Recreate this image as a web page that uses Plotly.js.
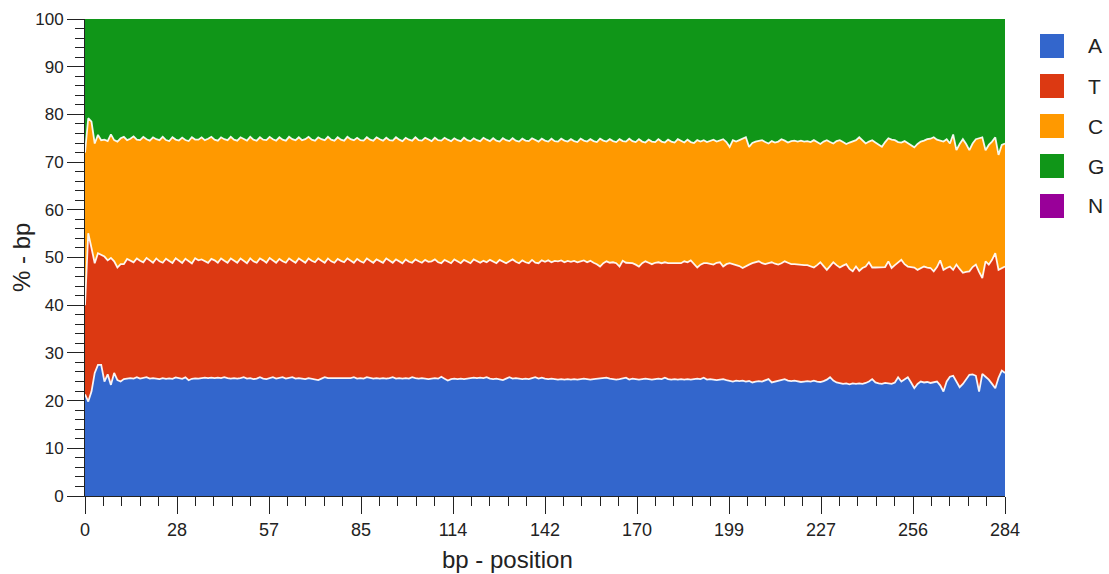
<!DOCTYPE html>
<html>
<head>
<meta charset="utf-8">
<script src="https://cdn.plot.ly/plotly-3.0.1.min.js"></script>
<style>html,body{margin:0;padding:0;background:#fff;}#chart{width:1109px;height:574px;}</style>
</head>
<body>
<div id="chart"></div>
<script>
// ---- data (per-base composition, % of reads at each position) ----
const seriesNames = ['A', 'T', 'C', 'G', 'N'];
const seriesColors = ['#3366CC', '#DC3912', '#FF9900', '#109618', '#990099'];
const xTickValues = [0, 28.4, 56.8, 85.2, 113.6, 142, 170.4, 198.8, 227.2, 255.6, 284];
const xTickLabels = ['0', '28', '57', '85', '114', '142', '170', '199', '227', '256', '284'];

const pctA = [
21.3,19.8,21.9,25.8,27.5,27.5,24.0,25.5,23.3,25.8,
24.3,24.0,24.5,24.6,24.7,24.6,24.9,24.6,24.7,24.9,
24.6,24.7,24.6,24.5,24.7,24.6,24.7,24.6,24.9,24.7,
24.6,24.9,24.3,24.6,24.7,24.6,24.7,24.8,24.7,24.8,
24.7,24.8,24.7,24.9,24.7,24.6,24.7,24.6,24.7,24.9,
24.6,24.7,24.5,24.6,24.9,24.6,24.5,24.7,24.9,24.6,
24.7,24.9,24.6,24.7,24.9,24.6,24.7,24.6,24.5,24.7,
24.6,24.5,24.3,24.6,24.9,24.7,24.7,24.6,24.7,24.6,
24.7,24.6,24.7,24.9,24.6,24.7,24.6,24.9,24.7,24.6,
24.7,24.6,24.7,24.6,24.7,24.9,24.6,24.7,24.6,24.7,
24.6,24.9,24.7,24.6,24.7,24.6,24.5,24.6,24.7,24.6,
25.0,24.6,24.2,24.5,24.6,24.5,24.6,24.5,24.6,24.7,
24.8,24.7,24.8,24.7,24.9,24.6,24.5,24.6,24.5,24.3,
24.6,24.9,24.6,24.7,24.6,24.5,24.6,24.5,24.7,24.9,
24.6,24.8,24.6,24.5,24.6,24.5,24.4,24.5,24.4,24.5,
24.4,24.5,24.4,24.5,24.6,24.5,24.4,24.5,24.6,24.7,
24.8,24.8,24.6,24.5,24.4,24.5,24.6,24.8,24.4,24.6,
24.5,24.4,24.5,24.6,24.5,24.4,24.5,24.6,24.5,24.8,
24.5,24.4,24.5,24.4,24.5,24.4,24.5,24.4,24.5,24.6,
24.5,24.8,24.4,24.5,24.4,24.3,24.4,24.5,24.3,24.2,
24.0,24.2,24.1,24.2,24.0,24.1,23.8,24.0,24.1,24.0,
24.2,24.5,23.8,24.0,24.1,24.3,24.5,24.2,24.1,24.2,
24.0,23.9,24.0,24.1,24.0,24.2,24.0,23.9,24.1,24.4,
24.9,24.2,23.8,23.6,23.5,23.6,23.4,23.6,23.5,23.6,
23.5,23.7,24.0,24.5,23.8,23.6,23.5,23.7,23.6,23.5,
23.8,24.9,24.0,24.5,24.9,23.8,22.6,23.5,24.0,23.8,
23.9,23.7,23.8,24.0,23.2,21.9,24.0,25.0,25.2,24.0,
22.8,23.5,24.4,25.4,25.5,25.2,21.9,25.6,25.0,24.4,
23.5,22.6,24.8,26.3,25.8];

const pctT = [
18.7,35.3,30.1,23.0,23.4,23.0,26.2,23.9,26.6,23.4,
23.6,24.6,24.1,25.1,24.7,24.4,24.9,24.7,24.3,25.0,
24.8,24.2,25.2,24.7,24.2,25.2,24.6,24.3,25.0,24.6,
24.3,24.9,24.9,24.2,25.2,24.8,24.9,24.5,24.2,24.9,
24.7,24.1,25.1,24.4,24.2,25.2,24.6,24.3,25.1,24.4,
24.2,25.1,24.7,24.3,24.9,24.8,24.4,25.2,24.4,24.3,
25.0,24.3,24.3,25.1,24.4,24.3,25.1,24.8,24.4,25.1,
24.7,24.5,25.5,24.7,24.0,25.1,24.5,24.3,25.0,24.7,
24.3,25.2,24.6,24.0,25.1,24.5,24.3,24.9,24.6,24.3,
24.9,24.6,24.2,25.2,24.6,24.0,25.0,24.5,24.2,24.9,
24.5,24.0,24.9,24.6,24.2,24.9,24.6,24.6,24.9,24.4,
23.8,24.9,24.9,24.3,25.0,24.7,24.2,25.0,24.5,24.1,
24.8,24.5,24.1,24.6,24.1,24.9,24.6,24.2,25.0,24.8,
24.2,24.3,25.0,24.4,24.2,24.9,24.4,24.3,24.8,24.0,
24.2,24.6,24.5,24.9,24.4,24.8,24.8,24.9,24.6,24.8,
24.7,24.8,24.6,24.7,24.8,24.5,24.9,24.4,24.0,23.4,
24.0,24.4,24.3,24.5,24.4,23.6,24.7,24.1,24.4,24.2,
24.0,23.7,24.3,24.6,24.4,24.2,24.4,24.4,24.3,24.2,
24.3,24.4,24.4,24.4,24.3,24.8,24.5,25.0,24.2,23.3,
24.0,24.0,24.4,24.1,24.1,24.6,24.6,23.6,24.3,24.6,
24.6,24.3,24.1,23.6,24.2,24.4,25.0,25.0,25.1,24.8,
24.4,24.3,25.2,24.7,24.4,24.5,24.7,24.7,24.5,24.4,
24.5,24.6,24.4,24.3,24.2,23.7,24.4,25.1,24.1,23.0,
23.3,24.8,24.6,24.3,24.8,25.0,24.2,23.5,24.6,23.6,
24.3,24.4,25.0,23.4,24.1,24.3,24.4,24.3,25.6,24.3,
24.6,24.0,25.5,24.1,23.2,24.2,25.3,23.9,23.8,24.3,
24.0,24.1,23.3,24.0,26.2,25.5,23.8,23.1,22.2,24.5,
24.8,23.3,22.6,21.7,22.5,23.3,25.1,20.1,24.2,24.1,
26.0,28.3,22.6,21.5,22.3];

const pctC = [
32.0,24.1,26.5,25.1,24.8,24.1,24.5,25.0,25.9,25.4,
26.4,26.4,26.7,24.9,25.5,26.4,24.9,25.3,26.3,24.9,
25.1,26.3,25.0,25.4,26.4,24.9,25.2,26.4,24.9,25.3,
26.3,24.9,25.3,26.5,24.9,25.3,25.6,25.3,26.0,25.6,
25.3,25.6,25.4,25.5,25.7,25.5,25.4,25.6,25.4,25.5,
25.7,25.5,25.5,25.6,25.4,25.3,25.7,25.4,25.5,25.6,
25.5,25.5,25.6,25.5,25.5,25.7,25.4,25.2,25.9,25.5,
25.4,25.5,25.4,25.5,25.7,25.5,25.5,25.6,25.5,25.4,
25.5,25.5,25.5,25.7,25.4,25.4,25.6,25.4,25.4,25.6,
25.6,25.6,25.6,25.3,25.3,25.6,25.6,25.5,25.6,25.5,
25.6,25.6,25.6,25.4,25.6,25.6,25.6,25.2,25.5,25.6,
25.7,25.6,25.6,25.6,25.4,25.4,25.6,25.6,25.5,25.6,
25.4,25.4,25.5,25.8,25.7,24.9,25.9,25.7,24.8,25.9,
25.8,25.2,25.4,25.4,25.5,25.5,25.5,25.6,25.5,25.7,
25.5,25.5,25.4,24.9,25.9,25.1,25.1,25.5,25.5,25.0,
25.7,25.1,25.2,25.7,25.1,25.3,25.5,25.5,25.6,26.8,
25.7,25.1,25.9,25.4,25.4,26.7,25.1,25.4,26.1,25.6,
25.7,26.7,25.5,24.9,25.8,25.7,25.3,25.8,25.5,25.1,
25.9,25.5,25.2,26.0,25.6,24.9,25.7,24.8,25.3,26.7,
25.8,25.8,25.4,25.8,26.2,25.4,25.5,26.7,25.6,24.4,
26.0,25.8,26.4,27.1,27.0,24.7,25.2,25.3,25.3,25.8,
25.6,25.1,25.4,25.4,25.8,26.0,25.3,25.2,25.8,25.9,
25.8,26.0,25.9,26.0,26.0,26.7,25.8,24.8,26.1,27.2,
26.0,24.9,26.0,26.7,25.9,25.2,26.5,27.2,26.5,28.0,
26.7,25.8,25.3,26.7,26.2,25.8,25.3,26.2,25.8,26.9,
26.2,25.3,24.6,25.8,25.9,25.6,25.2,26.4,26.5,26.4,
26.9,27.1,28.1,26.7,25.1,26.9,27.0,25.8,28.4,24.0,
26.2,28.0,26.8,25.4,25.9,26.3,28.0,29.5,23.3,25.1,
24.8,24.3,24.1,25.8,25.8];

const pctG = [
28.0,20.8,21.5,26.1,24.3,25.4,25.3,25.6,24.2,25.4,
25.7,25.0,24.7,25.4,25.1,24.6,25.3,25.4,24.7,25.2,
25.5,24.8,25.2,25.4,24.7,25.3,25.5,24.7,25.2,25.4,
24.8,25.3,25.5,24.7,25.2,25.3,24.8,25.4,25.1,24.7,
25.3,25.5,24.8,25.2,25.4,24.7,25.3,25.5,24.8,25.2,
25.5,24.7,25.3,25.5,24.8,25.3,25.4,24.7,25.2,25.5,
24.8,25.3,25.5,24.7,25.2,25.4,24.8,25.4,25.2,24.7,
25.3,25.5,24.8,25.2,25.4,24.7,25.3,25.5,24.8,25.3,
25.5,24.7,25.2,25.4,24.9,25.4,25.5,24.8,25.3,25.5,
24.8,25.2,25.5,24.9,25.4,25.5,24.8,25.3,25.6,24.9,
25.3,25.5,24.8,25.4,25.5,24.9,25.3,25.6,24.9,25.4,
25.5,24.9,25.3,25.6,25.0,25.4,25.6,24.9,25.4,25.6,
25.0,25.4,25.6,24.9,25.3,25.6,25.0,25.5,25.7,25.0,
25.4,25.6,25.0,25.5,25.7,25.1,25.5,25.6,25.0,25.4,
25.7,25.1,25.5,25.7,25.1,25.6,25.7,25.1,25.5,25.7,
25.2,25.6,25.8,25.1,25.5,25.7,25.2,25.6,25.8,25.1,
25.5,25.7,25.2,25.6,25.8,25.2,25.6,25.7,25.1,25.6,
25.8,25.2,25.7,25.9,25.3,25.7,25.8,25.2,25.7,25.9,
25.3,25.7,25.9,25.2,25.6,25.9,25.3,25.8,26.0,25.4,
25.7,25.4,25.8,25.6,25.3,25.7,25.5,25.2,25.8,26.8,
25.4,25.7,25.4,25.1,24.8,26.8,26.0,25.7,25.5,25.4,
25.8,26.1,25.6,25.9,25.7,25.2,25.5,25.9,25.6,25.5,
25.7,25.5,25.7,25.6,25.8,25.4,25.8,26.2,25.7,25.4,
25.8,26.1,25.6,25.4,25.8,26.2,25.9,25.7,25.4,24.8,
25.5,26.1,25.7,25.4,25.9,26.3,26.8,25.8,25.0,25.3,
25.4,25.8,25.9,25.6,26.0,26.4,26.9,26.2,25.7,25.5,
25.2,25.1,24.8,25.3,25.5,25.7,25.2,26.1,24.2,27.5,
26.2,25.2,26.2,27.5,26.1,25.2,25.0,24.8,27.5,26.4,
25.7,24.8,28.5,26.4,26.1];

const pctN = [
0,0,0,0,0,0,0,0,0,0,
0,0,0,0,0,0,0,0,0,0,
0,0,0,0,0,0.1,0.1,0.1,0.1,0.1,
0.1,0.1,0.1,0.1,0.1,0,0,0,0,0,
0,0,0,0,0,0,0,0,0,0,
0,0,0,0,0,0,0,0,0,0,
0,0,0,0,0,0,0,0,0,0,
0,0,0,0,0,0,0,0,0,0,
0,0,0,0,0,0,0,0,0,0,
0,0,0,0,0,0,0,0,0,0,
0,0,0,0,0,0,0,0,0,0,
0,0,0,0,0,0,0,0,0,0,
0,0,0,0,0,0,0,0,0,0,
0,0,0,0,0,0,0,0,0,0,
0,0,0,0,0,0,0,0,0,0,
0,0,0,0,0,0,0,0,0,0,
0,0,0,0,0,0,0,0,0,0,
0,0,0,0,0,0,0,0,0,0,
0,0,0,0,0,0,0,0,0,0,
0,0,0,0,0,0,0,0,0,0,
0,0,0,0,0,0,0,0,0,0,
0,0,0,0,0,0,0,0,0,0,
0,0,0,0,0,0,0,0,0,0,
0,0,0,0,0,0,0,0,0,0,
0,0,0,0,0,0,0,0,0,0,
0,0,0,0,0,0,0,0,0,0,
0,0,0,0,0,0,0,0,0,0,
0,0,0,0,0,0,0,0,0,0,
0,0,0,0,0];

const positions = pctA.map((_, i) => i);
const seriesValues = [pctA, pctT, pctC, pctG, pctN];

// ---- drawing ----
const FONT = 'Liberation Sans, Arial, Helvetica, sans-serif';
const W = 1109, H = 574;
const M = {l: 85, r: 104, t: 19, b: 78};
const pw = W - M.l - M.r, ph = H - M.t - M.b;
const px2x = px => (px - M.l) / pw;
const py2y = py => (H - M.b - py) / ph;

const traces = seriesNames.map((name, i) => ({
  type: 'scatter',
  mode: 'lines',
  name: name,
  x: positions,
  y: seriesValues[i],
  stackgroup: 'base',
  groupnorm: i === 0 ? 'percent' : undefined,
  fill: i === 0 ? 'tozeroy' : 'tonexty',
  fillcolor: seriesColors[i],
  line: {color: 'rgba(255,255,255,0.92)', width: i >= 3 ? 0 : 1.8, shape: 'linear'},
  showlegend: false,
  hoverinfo: 'x+y+name'
}));

const shapes = [];
const annotations = [];
seriesNames.forEach((name, i) => {
  const cy = 46 + 40 * i;
  shapes.push({
    type: 'rect', xref: 'paper', yref: 'paper',
    x0: px2x(1040), x1: px2x(1064), y0: py2y(cy + 12), y1: py2y(cy - 12),
    fillcolor: seriesColors[i], line: {width: 0}
  });
  annotations.push({
    xref: 'paper', yref: 'paper', x: px2x(1086), y: py2y(cy),
    xanchor: 'left', yanchor: 'middle', showarrow: false,
    text: name, font: {family: FONT, size: 21, color: '#222'}
  });
});
annotations.push({
  xref: 'paper', yref: 'paper', x: px2x(507), y: py2y(559),
  xanchor: 'center', yanchor: 'middle', showarrow: false,
  text: 'bp - position', font: {family: FONT, size: 24, color: '#222'}
});
annotations.push({
  xref: 'paper', yref: 'paper', x: px2x(21), y: py2y(258),
  xanchor: 'center', yanchor: 'middle', showarrow: false, textangle: -90,
  text: '% - bp', font: {family: FONT, size: 24, color: '#222'}
});

const layout = {
  width: W, height: H,
  margin: M,
  paper_bgcolor: '#ffffff',
  plot_bgcolor: '#ffffff',
  font: {family: FONT, color: '#222'},
  showlegend: false,
  xaxis: {
    range: [0, 284],
    tickmode: 'array', tickvals: xTickValues, ticktext: xTickLabels,
    ticks: 'outside', ticklen: 17, tickwidth: 1, tickcolor: '#222',
    showline: true, linecolor: '#222', linewidth: 1,
    showgrid: false, zeroline: false,
    tickfont: {family: FONT, size: 18, color: '#222'},
    minor: {tickmode: 'linear', tick0: 0, dtick: 5.68, ticks: 'outside', ticklen: 9, tickcolor: '#222', tickwidth: 1, showgrid: false}
  },
  yaxis: {
    range: [0, 100],
    tickmode: 'linear', tick0: 0, dtick: 10,
    ticks: 'outside', ticklen: 17, tickwidth: 1, tickcolor: '#222',
    showline: true, linecolor: '#222', linewidth: 1,
    showgrid: false, zeroline: false,
    tickfont: {family: FONT, size: 17, color: '#222'},
    minor: {tickmode: 'linear', tick0: 0, dtick: 2, ticks: 'outside', ticklen: 9, tickcolor: '#222', tickwidth: 1, showgrid: false}
  },
  shapes: shapes,
  annotations: annotations
};

Plotly.newPlot('chart', traces, layout, {displayModeBar: false, responsive: false});
</script>
</body>
</html>
